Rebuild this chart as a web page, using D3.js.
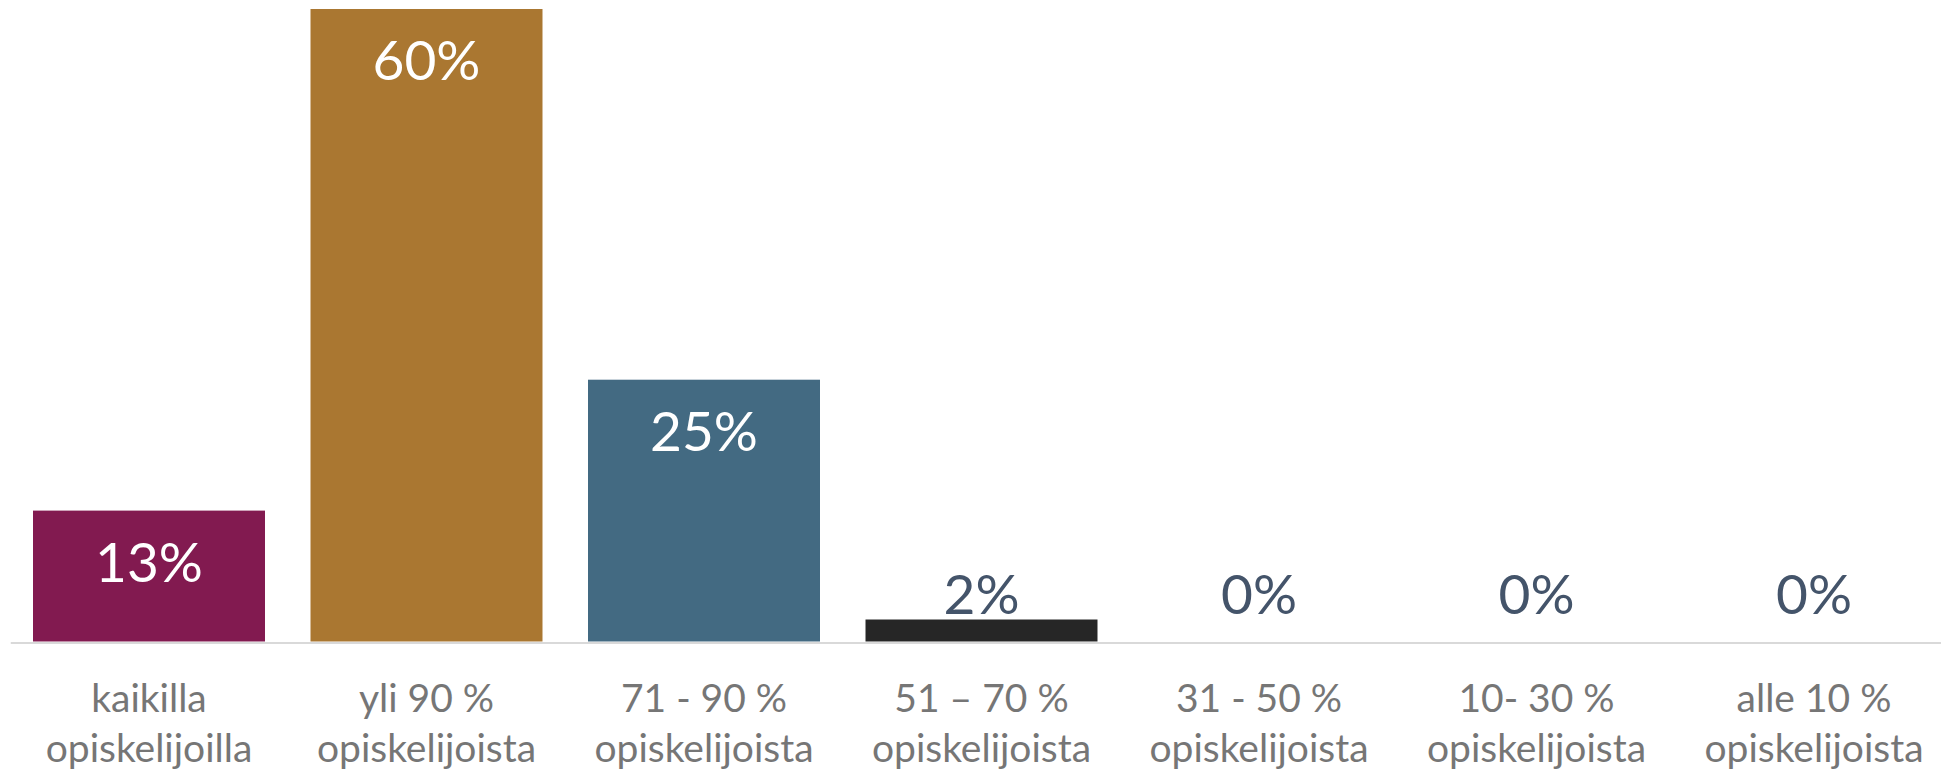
<!DOCTYPE html>
<html>
<head>
<meta charset="utf-8">
<script src="https://cdn.jsdelivr.net/npm/d3@7"></script>
<style>
  html, body { margin: 0; padding: 0; background: #fff; }
  svg { display: block; font-family: Lato, "Open Sans", sans-serif; }
</style>
</head>
<body>
<div id="chart"></div>
<script>
// categories (two lines each) and share of teachers, %
var categories = [
    "kaikilla\nopiskelijoilla",
    "yli 90 %\nopiskelijoista",
    "71 - 90 %\nopiskelijoista",
    "51 \u2013 70 %\nopiskelijoista",
    "31 - 50 %\nopiskelijoista",
    "10- 30 %\nopiskelijoista",
    "alle 10 %\nopiskelijoista"
];
var values = [12.5, 60.4, 25.0, 2.1, 0, 0, 0];
var barColors = ["#821A50", "#AA7731", "#436A82", "#262626", "#262626", "#262626", "#262626"];

var svgWidth = 1941;
var svgHeight = 774;

var svg = d3.select("#chart").append("svg")
    .attr("width", svgWidth)
    .attr("height", svgHeight);

// plot area (runs a little past the right edge, like the original)
var plotLeft = 10.25;
var plotRight = 1952.75;
var plotTop = 9;
var plotBottom = 641.5;

var xScale = d3.scaleBand()
    .domain(categories)
    .range([plotLeft, plotRight])
    .paddingInner(0.164)
    .paddingOuter(0.082);

var yScale = d3.scaleLinear()
    .domain([0, d3.max(values)])
    .range([plotBottom, plotTop]);

var data = categories.map(function (c, i) {
    return { cat: c, value: values[i], color: barColors[i] };
});

// bars
svg.append("g")
    .selectAll("rect")
    .data(data)
    .enter()
    .append("rect")
    .attr("x", d => xScale(d.cat))
    .attr("y", d => yScale(d.value))
    .attr("width", xScale.bandwidth())
    .attr("height", d => yScale(0) - yScale(d.value))
    .attr("fill", d => d.color);

// category axis
var xAxis = d3.axisBottom(xScale).tickSize(0).tickPadding(0);
var axisG = svg.append("g")
    .attr("transform", `translate(0, ${plotBottom + 1})`)
    .call(xAxis);

axisG.select(".domain")
    .attr("stroke", "#D9D9D9")
    .attr("stroke-width", 2);

axisG.selectAll(".tick text")
    .attr("fill", "#767676")
    .attr("font-size", "39px")
    .attr("font-family", "Lato, 'Open Sans', sans-serif")
    .attr("dy", null)
    .attr("y", null)
    .text(null)
    .each(function (d) {
        var lines = d.split("\n");
        var t = d3.select(this);
        lines.forEach(function (line, i) {
            t.append("tspan")
                .attr("x", 0)
                .attr("y", 69 + i * 50)
                .text(line);
        });
    });

// value labels: inside end if it fits, otherwise just above the axis
var outsideBase = plotBottom - 27.5;
svg.append("g")
    .selectAll("text")
    .data(data)
    .enter()
    .append("text")
    .attr("x", d => xScale(d.cat) + xScale.bandwidth() / 2)
    .attr("y", function (d) {
        var inside = yScale(d.value) + 71;
        return inside <= outsideBase ? inside : outsideBase;
    })
    .attr("text-anchor", "middle")
    .attr("font-size", "55px")
    .attr("fill", function (d) {
        return yScale(d.value) + 71 <= outsideBase ? "#FFFFFF" : "#44546A";
    })
    .text(d => Math.round(d.value) + "%");
</script>
</body>
</html>
